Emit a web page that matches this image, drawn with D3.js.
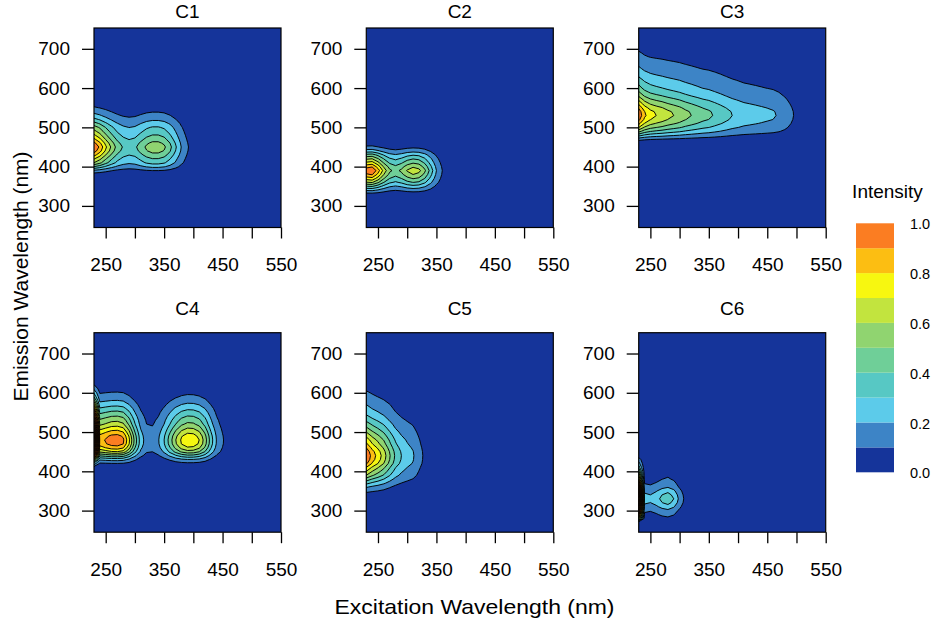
<!DOCTYPE html>
<html lang="en">
<head>
<meta charset="UTF-8">
<script src="https://d3js.org/d3.v7.min.js"></script>
<title>PARAFAC components - EEM contours</title>
<style>
  body { margin: 0; background: #fff; }
  svg { display: block; font-family: "Liberation Sans", Arial, sans-serif; }
</style>
</head>
<body>
<svg width="941" height="621"></svg>
<script>
// grid of the loadings (nm)
const exWave = d3.range(230, 551, 10) // 33 points
const emWave = d3.range(250, 751, 10) // 51 points

const components = ["C1", "C2", "C3", "C4", "C5", "C6"]

// excitation / emission loadings (relative)
const c1Ex = [1.0, 0.88, 0.72, 0.58, 0.46, 0.39, 0.36, 0.38, 0.45, 0.52, 0.56, 0.56, 0.52, 0.43, 0.31, 0.19, 0.11, 0.05, 0.02, 0.005,
  0, 0, 0, 0, 0, 0, 0, 0, 0, 0, 0, 0, 0]
const c1Em = [0, 0, 0, 0, 0, 0, 0, 0, 0, 0, 0, 0, 0,
  0.05, 0.18, 0.4, 0.6, 0.71, 0.84, 0.95, 1.0, 0.93, 0.82, 0.72, 0.63, 0.55, 0.44, 0.33, 0.24, 0.17, 0.11, 0.07, 0.04, 0.02, 0.01,
  0, 0, 0, 0, 0, 0, 0, 0, 0, 0, 0, 0, 0, 0, 0, 0]

const c2Ex = [0.97, 1.0, 0.85, 0.66, 0.52, 0.47, 0.52, 0.61, 0.66, 0.63, 0.52, 0.36, 0.2, 0.1, 0.04, 0.01,
  0, 0, 0, 0, 0, 0, 0, 0, 0, 0, 0, 0, 0, 0, 0, 0, 0]
const c2Em = [0, 0, 0, 0, 0, 0, 0, 0,
  0.06, 0.22, 0.41, 0.61, 0.77, 0.91, 1.0, 0.89, 0.74, 0.6, 0.44, 0.25, 0.12, 0.05, 0.02,
  0, 0, 0, 0, 0, 0, 0, 0, 0, 0, 0, 0, 0, 0, 0, 0, 0, 0, 0, 0, 0, 0, 0, 0, 0, 0, 0, 0]

const c3Ex = [0.98, 0.82, 0.74, 0.7, 0.67, 0.63, 0.6, 0.57, 0.53, 0.5, 0.47, 0.44, 0.42, 0.39, 0.36, 0.33, 0.3, 0.28, 0.26, 0.25,
  0.24, 0.23, 0.22, 0.21, 0.19, 0.16, 0.12, 0.08, 0.04, 0.02, 0.01, 0, 0]
const c3Em = [0, 0, 0, 0, 0, 0, 0, 0, 0, 0, 0, 0, 0, 0, 0, 0, 0, 0, 0, 0, 0, 0,
  0.15, 0.35, 0.55, 0.72, 0.85, 0.95, 1.0, 0.98, 0.9, 0.8, 0.7, 0.6, 0.52, 0.45, 0.4, 0.35, 0.3, 0.26, 0.22, 0.19,
  0.16, 0.13, 0.11, 0.09, 0.07, 0.05, 0.03, 0.02, 0.01]

const c4Ex = [2.6, 0.86, 0.91, 0.96, 0.97, 0.92, 0.72, 0.46, 0.25, 0.15, 0.14, 0.19, 0.3, 0.45, 0.6, 0.72, 0.78, 0.77, 0.7, 0.55,
  0.35, 0.19, 0.11, 0.05, 0.02, 0, 0, 0, 0, 0, 0, 0, 0]
const c4Em = [0, 0, 0, 0, 0, 0, 0, 0, 0, 0, 0, 0, 0, 0, 0, 0,
  0.02, 0.1, 0.25, 0.48, 0.72, 0.88, 0.98, 1.0, 0.96, 0.87, 0.77, 0.67, 0.6, 0.52, 0.44, 0.36, 0.28, 0.21, 0.15, 0.11,
  0.07, 0.04, 0.02, 0.01,
  0, 0, 0, 0, 0, 0, 0, 0, 0, 0, 0]

const c5Ex = [1.0, 0.86, 0.76, 0.65, 0.51, 0.38, 0.3, 0.25, 0.21, 0.14, 0.08, 0.03, 0.01,
  0, 0, 0, 0, 0, 0, 0, 0, 0, 0, 0, 0, 0, 0, 0, 0, 0, 0, 0, 0]
const c5Em = [0, 0, 0, 0, 0, 0, 0, 0, 0,
  0.05, 0.13, 0.21, 0.33, 0.46, 0.6, 0.7, 0.8, 0.92, 0.98, 1.0, 0.97, 0.9, 0.82, 0.76, 0.68, 0.6, 0.52, 0.45, 0.38,
  0.32, 0.27, 0.23, 0.2, 0.16, 0.13, 0.11, 0.09, 0.06, 0.04, 0.02, 0.01,
  0, 0, 0, 0, 0, 0, 0, 0, 0, 0]

const c6Ex = [3.0, 0.24, 0.22, 0.26, 0.33, 0.37, 0.3, 0.17, 0.07, 0.02,
  0, 0, 0, 0, 0, 0, 0, 0, 0, 0, 0, 0, 0, 0, 0, 0, 0, 0, 0, 0, 0, 0, 0]
const c6Em = [0, 0, 0,
  0.22, 0.35, 0.48, 0.7, 0.9, 1.0, 0.91, 0.74, 0.52, 0.4, 0.3, 0.24, 0.18, 0.12, 0.08, 0.05, 0.02,
  0, 0, 0, 0, 0, 0, 0, 0, 0, 0, 0, 0, 0, 0, 0, 0, 0, 0, 0, 0, 0, 0, 0, 0, 0, 0, 0, 0, 0, 0, 0]

const loadings = {
  C1: [c1Ex, c1Em], C2: [c2Ex, c2Em], C3: [c3Ex, c3Em],
  C4: [c4Ex, c4Em], C5: [c5Ex, c5Em], C6: [c6Ex, c6Em]
}

// colour key
const bandBreaks = [0, 0.1, 0.2, 0.3, 0.4, 0.5, 0.6, 0.7, 0.8, 0.9, 1.0]
const bandColors = ["#15349a", "#3d84c6", "#5ccbea", "#57c8c4", "#6fcf98", "#90d470", "#c2e43e", "#f7f710", "#fcbe12", "#fb7d22"]
const keyLabels = [0, 0.2, 0.4, 0.6, 0.8, 1.0]

const xTicks = [250, 300, 350, 400, 450, 500, 550]
const xTickLabels = [250, 350, 450, 550]
const yTicks = [300, 400, 500, 600, 700]

const svg = d3.select("svg")
const colLeft = [94, 366.3, 638.7]
const rowTop = [28, 332.7]
const titleY = [17.5, 315]
const pw = 187, ph = 199.5

components.forEach((name, k) => {
  const col = k % 3, row = Math.floor(k / 3)
  const left = colLeft[col], top = rowTop[row]
  const x = d3.scaleLinear().domain([230, 550]).range([left, left + pw])
  const y = d3.scaleLinear().domain([245, 753]).range([top + ph, top])
  const [ex, em] = loadings[name]

  // grid: row = emission, column = excitation
  const values = []
  em.forEach(e => ex.forEach(v => values.push(v * e)))
  const maxV = d3.max(values)
  const thresholds = d3.range(1, Math.floor(maxV * 10 + 1e-9) + 1).map(i => i / 10)
  const contours = d3.contours().size([ex.length, em.length]).thresholds(thresholds)(values)

  const gx = d3.scaleLinear().domain([0.5, ex.length - 0.5]).range([exWave[0], exWave[exWave.length - 1]])
  const gy = d3.scaleLinear().domain([0.5, em.length - 0.5]).range([emWave[0], emWave[emWave.length - 1]])
  const path = d3.geoPath(d3.geoTransform({
    point(px, py) { this.stream.point(x(gx(px)), y(gy(py))) }
  }))

  svg.append("clipPath").attr("id", "clip" + k)
    .append("rect").attr("x", left).attr("y", top).attr("width", pw).attr("height", ph)

  const g = svg.append("g").attr("clip-path", `url(#clip${k})`)
  g.append("rect")
    .attr("x", left).attr("y", top).attr("width", pw).attr("height", ph)
    .attr("fill", bandColors[0])
  g.selectAll("path")
    .data(contours)
    .join("path")
    .attr("d", path)
    .attr("fill", (d, i) => bandColors[Math.min(i + 1, 9)])
    .attr("stroke", "#000")
    .attr("stroke-width", 0.95)

  svg.append("rect")
    .attr("x", left).attr("y", top).attr("width", pw).attr("height", ph)
    .attr("fill", "none").attr("stroke", "#000").attr("stroke-width", 1.2)

  const xAxis = svg.append("g")
    .attr("transform", `translate(0,${top + ph})`)
    .call(d3.axisBottom(x).tickValues(xTicks).tickSize(11).tickPadding(19.5)
      .tickFormat(d => xTickLabels.includes(d) ? d : ""))
  const yAxis = svg.append("g")
    .attr("transform", `translate(${left},0)`)
    .call(d3.axisLeft(y).tickValues(yTicks).tickSize(12).tickPadding(12))
  ;[xAxis, yAxis].forEach(a => {
    a.select(".domain").remove()
    a.selectAll("line").attr("stroke", "#000").attr("stroke-width", 1.3)
    a.selectAll("text").attr("fill", "#000").style("font-size", "19px")
      .style("font-family", '"Liberation Sans", Arial, sans-serif')
  })

  svg.append("text")
    .attr("x", left + pw / 2).attr("y", titleY[row])
    .attr("text-anchor", "middle")
    .style("font-size", "19px")
    .text(name)
})

// axis titles
svg.append("text")
  .attr("x", 474.5).attr("y", 614)
  .attr("text-anchor", "middle")
  .style("font-size", "21px")
  .attr("textLength", 280).attr("lengthAdjust", "spacingAndGlyphs")
  .text("Excitation Wavelength (nm)")

svg.append("text")
  .attr("transform", "translate(28,276.5) rotate(-90)")
  .attr("text-anchor", "middle")
  .style("font-size", "21px")
  .text("Emission Wavelength (nm)")

// colour key
const key = d3.scaleLinear().domain([0, 1]).range([472.3, 223.3])
svg.append("text")
  .attr("x", 887.5).attr("y", 197.5)
  .attr("text-anchor", "middle")
  .style("font-size", "19px")
  .text("Intensity")

svg.selectAll(".band")
  .data(bandColors)
  .join("rect")
  .attr("class", "band")
  .attr("x", 856).attr("width", 38)
  .attr("y", (d, i) => key(bandBreaks[i + 1]))
  .attr("height", (d, i) => key(bandBreaks[i]) - key(bandBreaks[i + 1]))
  .attr("fill", d => d)

svg.selectAll(".keylab")
  .data(keyLabels)
  .join("text")
  .attr("class", "keylab")
  .attr("x", 910)
  .attr("y", d => key(d) + 6)
  .style("font-size", "14.5px")
  .text(d => d.toFixed(1))
</script>
</body>
</html>
